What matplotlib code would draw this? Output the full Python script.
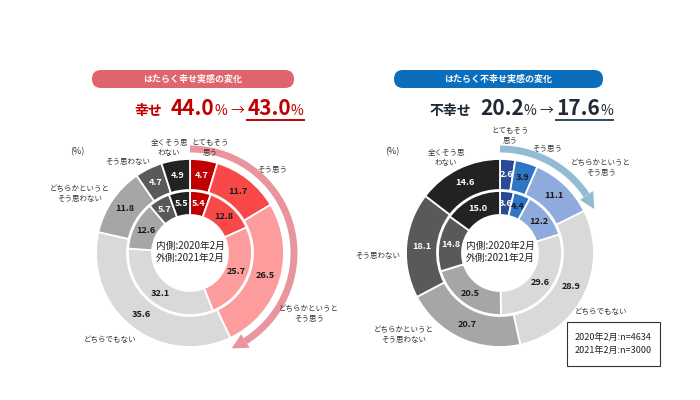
import numpy as np
import matplotlib
matplotlib.use('Agg')
import matplotlib.pyplot as plt
from matplotlib.patches import FancyBboxPatch, Polygon, Rectangle

plt.rcParams['font.family'] = ['Noto Sans CJK JP', 'DejaVu Sans']

# ---------------- data ----------------
categories = ['とてもそう思う', 'そう思う', 'どちらかというとそう思う', 'どちらでもない',
              'どちらかというとそう思わない', 'そう思わない', '全くそう思わない']
happy_2021 = [4.7, 11.7, 26.5, 35.6, 11.8, 4.7, 4.9]      # outer ring
happy_2020 = [5.4, 12.8, 25.7, 32.1, 12.6, 5.7, 5.5]      # inner ring
unhappy_2021 = [2.6, 3.9, 11.1, 28.9, 20.7, 18.1, 14.6]   # outer ring
unhappy_2020 = [3.6, 4.4, 12.2, 29.6, 20.5, 14.8, 15.0]   # inner ring
happy_total = [44.0, 43.0]
unhappy_total = [20.2, 17.6]
panel_titles = ['はたらく幸せ実感の変化', 'はたらく不幸せ実感の変化']
headline_words = ['幸せ', '不幸せ']
ring_note = '内側:2020年2月\n外側:2021年2月'
sample_note = '2020年2月:n=4634\n2021年2月:n=3000'

# ---------------- style ----------------
happy_colors = ['#C00000', '#F84848', '#FC9C9C', '#D9D9D9', '#A6A6A6', '#595959', '#222222']
unhappy_colors = ['#2B4A96', '#2E75C6', '#8FAADC', '#D9D9D9', '#A6A6A6', '#595959', '#222222']
white_idx = {0, 5, 6}

W, H = 700, 400
fig = plt.figure(figsize=(7, 4), dpi=100)
ax = fig.add_axes([0, 0, 1, 1])


def Y(y):
    return H - y


R_OUT, W_OUT = 94, 31
R_IN, W_IN = 62, 24
CY = 253


def donut(cx, outer, inner, colors):
    center = (cx, Y(CY))
    wp = dict(edgecolor='white', linewidth=1.3)
    wo, _ = ax.pie(outer, colors=colors, radius=R_OUT, center=center, startangle=90,
                   counterclock=False, frame=True, normalize=True,
                   wedgeprops=dict(width=W_OUT, **wp))
    wi, _ = ax.pie(inner, colors=colors, radius=R_IN, center=center, startangle=90,
                   counterclock=False, frame=True, normalize=True,
                   wedgeprops=dict(width=W_IN, **wp))
    for wedges, vals, rmid in ((wo, outer, R_OUT - W_OUT / 2), (wi, inner, R_IN - W_IN / 2)):
        for i, (w, v) in enumerate(zip(wedges, vals)):
            th = np.deg2rad((w.theta1 + w.theta2) / 2)
            x = center[0] + rmid * np.cos(th)
            y = center[1] + rmid * np.sin(th)
            ax.text(x, y, f'{v:.1f}', ha='center', va='center', fontsize=6.6,
                    fontweight='bold', color='white' if i in white_idx else '#1a1a1a')
    ax.text(cx, Y(CY) + 1, ring_note, ha='center', va='center', fontsize=7,
            color='#222222', linespacing=1.3)


def arc_arrow(cx, pct, color):
    R = 104
    th_end = 90 - 3.6 * pct
    head_len_deg = 7.0
    th_base = th_end + head_len_deg
    t = np.linspace(np.deg2rad(90), np.deg2rad(th_base), 100)
    ax.plot(cx + R * np.cos(t), Y(CY) + R * np.sin(t), color=color, lw=5,
            solid_capstyle='butt')
    tb = np.deg2rad(th_base)
    px, py = cx + R * np.cos(tb), Y(CY) + R * np.sin(tb)
    nx, ny = np.cos(tb), np.sin(tb)
    te = np.deg2rad(th_end)
    tipx, tipy = cx + R * np.cos(te), Y(CY) + R * np.sin(te)
    tx, ty = np.sin(te), -np.cos(te)
    tipx += tx * 3
    tipy += ty * 3
    hw = 8
    ax.add_patch(Polygon([[px + nx * hw, py + ny * hw], [tipx, tipy],
                          [px - nx * hw, py - ny * hw]], closed=True,
                         facecolor=color, edgecolor='none'))


def title_box(x0, x1, y0, y1, text, color):
    h = y1 - y0
    ym = (y0 + y1) / 2
    ax.add_patch(FancyBboxPatch((x0 + h / 2, Y(ym)), (x1 - x0) - h, 0.001,
                                boxstyle=f'round,pad={h/2},rounding_size={h/2}',
                                facecolor=color, edgecolor='none', mutation_aspect=1))
    ax.text((x0 + x1) / 2, Y(ym), text, ha='center', va='center',
            fontsize=6.5, fontweight='bold', color='white')


def headline(center_x, base_y, word, v0, v1, color, ucolor):
    r = fig.canvas.get_renderer()
    pieces = [(word, 10, 'bold', 9), (f'{v0:.1f}', 15, 'bold', 0), ('%', 10, 'normal', 3),
              ('→', 10, 'normal', 3), (f'{v1:.1f}', 15, 'bold', 0), ('%', 10, 'normal', 0)]
    texts = []
    x = 0
    for s, size, wt, gap in pieces:
        t = ax.text(x, Y(base_y), s, ha='left', va='baseline', fontsize=size,
                    fontweight=wt, color=color)
        bb = t.get_window_extent(renderer=r)
        texts.append((t, x, bb.width))
        x += bb.width + gap
    total = x
    shift = center_x - total / 2
    for t, x0, w in texts:
        t.set_x(x0 + shift)
    ustart = texts[4][1] + shift
    uend = texts[5][1] + shift + texts[5][2]
    ax.plot([ustart, uend], [Y(base_y + 5), Y(base_y + 5)], color=ucolor, lw=1.4)


lab_fs = 5.4
lab_kw = dict(ha='center', va='center', fontsize=lab_fs, color='#333333', linespacing=1.3)
pct_kw = dict(ha='center', va='center', fontsize=6.5, color='#333333')

# ---------------- left panel ----------------
LCX = 190
title_box(92, 294, 70, 88, panel_titles[0], '#E0646E')
headline(219, 115, headline_words[0], happy_total[0], happy_total[1], '#C00000', '#C00000')
donut(LCX, happy_2021, happy_2020, happy_colors)
arc_arrow(LCX, happy_total[1], '#E8959D')

ax.text(77, Y(152), '(%)', **pct_kw)
ax.text(169, Y(148), '全くそう思\nわない', **lab_kw)
ax.text(210, Y(148), 'とてもそう\n思う', **lab_kw)
ax.text(272, Y(170), 'そう思う', **lab_kw)
ax.text(128, Y(162), 'そう思わない', **lab_kw)
ax.text(80, Y(194), 'どちらかというと\nそう思わない', **lab_kw)
ax.text(309, Y(314), 'どちらかというと\nそう思う', **lab_kw)
ax.text(110, Y(340), 'どちらでもない', **lab_kw)

# ---------------- right panel ----------------
RCX = 500
title_box(394, 603, 70, 88, panel_titles[1], '#0B6EBD')
headline(521, 115, headline_words[1], unhappy_total[0], unhappy_total[1], '#1E2A36', '#2E4A5A')
donut(RCX, unhappy_2021, unhappy_2020, unhappy_colors)
arc_arrow(RCX, unhappy_total[1], '#93BCD2')

ax.text(392, Y(152), '(%)', **pct_kw)
ax.text(446, Y(158), '全くそう思\nわない', **lab_kw)
ax.text(510, Y(136), 'とてもそう\n思う', **lab_kw)
ax.text(547, Y(149), 'そう思う', **lab_kw)
ax.text(601, Y(168), 'どちらかというと\nそう思う', **lab_kw)
ax.text(378, Y(256), 'そう思わない', **lab_kw)
ax.text(404, Y(335), 'どちらかというと\nそう思わない', **lab_kw)
ax.text(601, Y(312), 'どちらでもない', **lab_kw)

ax.add_patch(Rectangle((567, Y(366)), 93, 44, facecolor='white', edgecolor='#333333', lw=0.8))
ax.text(613.5, Y(344), sample_note, ha='center', va='center', fontsize=6.5,
        color='#222222', linespacing=1.45)

ax.set_xlim(0, W)
ax.set_ylim(0, H)
ax.set_aspect('auto')
ax.axis('off')
fig.savefig('out.png', dpi=100, facecolor='white')
